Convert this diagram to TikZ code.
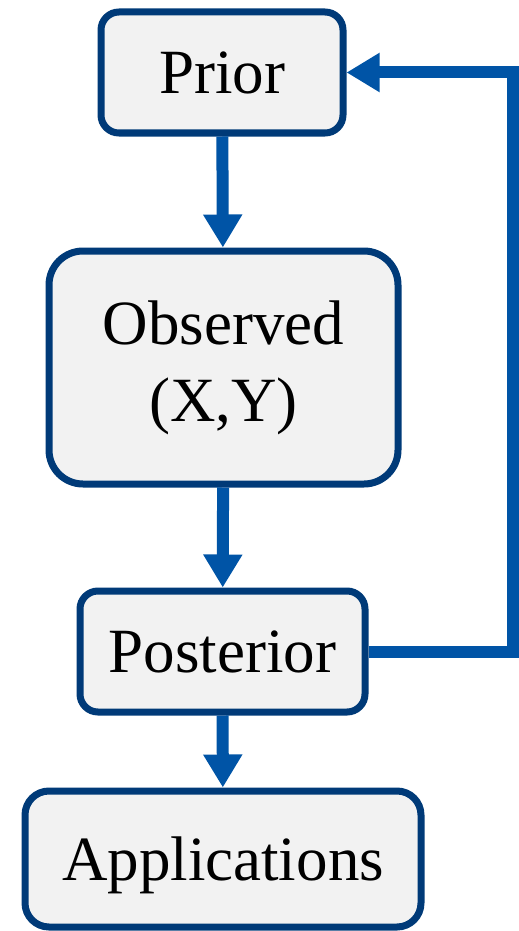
\documentclass[tikz,border=0pt]{standalone}
\usepackage{fontspec}
\setmainfont{Liberation Serif}
\usepackage{xcolor}
\usetikzlibrary{positioning,arrows.meta}

\definecolor{boxedge}{RGB}{0,58,120}
\definecolor{boxfill}{RGB}{242,242,242}
\definecolor{flowblue}{RGB}{0,84,166}

\begin{document}
\begin{tikzpicture}[x=1pt, y=1pt,
    blk/.style={draw=boxedge, fill=boxfill, line width=7pt, rounded corners=18pt,
                align=center, inner sep=0pt, font=\fontsize{63}{77}\selectfont},
    arr/.style={-{Triangle[length=33pt, width=37pt]}, line width=12pt, draw=flowblue}
  ]
  \useasboundingbox (0,0) rectangle (519,-931);
  % Main column, top to bottom.
  \node[blk, minimum width=242pt, minimum height=121pt] (prior) at (222,-72.5) {Prior};
  \node[blk, minimum width=349pt, minimum height=233pt, rounded corners=34pt] (obs) at (223.5,-367.5) {Observed\\(X,Y)};
  \node[blk, minimum width=285pt, minimum height=121pt] (post) at (222.5,-651.5) {Posterior};
  \node[blk, minimum width=396pt, minimum height=136pt, rounded corners=24pt, text depth=0pt] (app) at (223,-859) {Applications};
  \coordinate (fb) at (513,-360);

  \draw[arr] (prior) -- (obs);
  \draw[arr] (obs) -- (post);
  \draw[arr] (post) -- (app);
  % Feedback: posterior becomes the new prior.
  \draw[arr] (post.east) -| (fb) |- (prior.east);
\end{tikzpicture}
\end{document}
